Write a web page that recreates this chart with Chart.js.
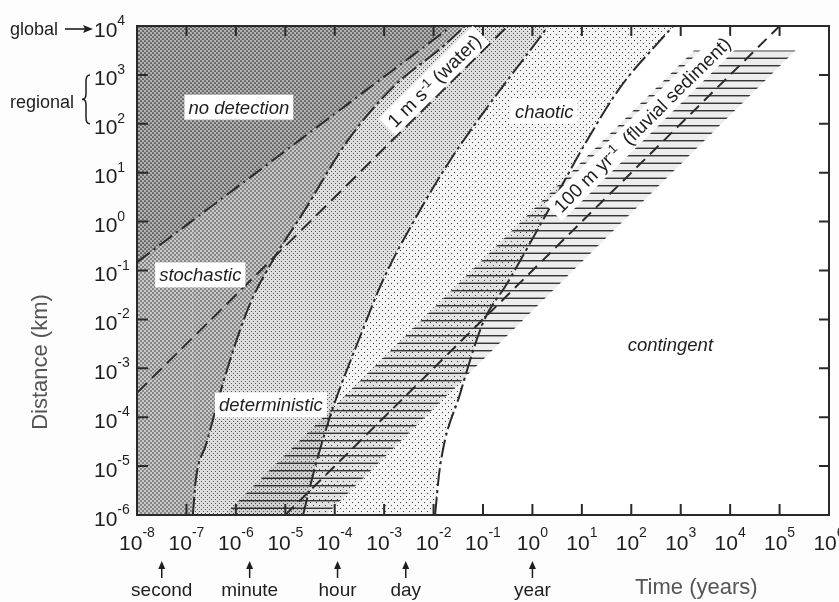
<!DOCTYPE html>
<html>
<head>
<meta charset="utf-8">
<title>Space–time domains of landscape behaviour</title>
<script src="https://cdn.jsdelivr.net/npm/chart.js@4.4.1/dist/chart.umd.min.js"></script>
<style>
  html, body { margin: 0; padding: 0; background: #fdfdfd; }
  canvas { display: block; }
</style>
</head>
<body>
<canvas id="chart" width="839" height="602"></canvas>
<script>
// ---- axis decades (log10) ----
const timeDecades = [-8, -7, -6, -5, -4, -3, -2, -1, 0, 1, 2, 3, 4, 5, 6];
const distanceDecades = [-6, -5, -4, -3, -2, -1, 0, 1, 2, 3, 4];

// ---- regime boundaries: log10 time (yr) against log10 distance (km) ----
const detectionLogT = [-8, -1.63];
const detectionLogD = [-0.83, 4];
const stochasticLogT = [-6.87, -6.81, -6.6, -6.2, -5.72, -5.25, -4.64, -3.72, -2.82, -1.85, -1.36];
const stochasticLogD = [-6, -5.28, -4.55, -3.1, -1.7, -0.79, 0.18, 1.68, 2.75, 3.55, 4];
const deterministicLogT = [-4.64, -4.36, -4.03, -3.49, -3.02, -2.27, -1.66, -1.0, 0.16, 0.32];
const deterministicLogD = [-6, -4.88, -3.79, -2.36, -1.19, 0.24, 1.26, 2.22, 3.78, 4];
const chaoticLogT = [-1.97, -1.87, -1.46, -1.0, -0.51, 0.36, 1.03, 1.78, 2.59, 2.85];
const chaoticLogD = [-6, -5.02, -3.51, -2.07, -1.26, 0.30, 1.53, 2.75, 3.71, 4];

// ---- transport velocities (km per year) ----
const waterSpeed = 31557.6;               // 1 m s-1
const sedimentSpeed = 0.1;                // 100 m yr-1
const sedimentBandSpeeds = [1.7, 0.015];  // fast and slow edges of the hatched band
const sedimentBandLogD = [-6, 3.5];

// ---- familiar time spans, in seconds ----
const spanNames = ['second', 'minute', 'hour', 'day', 'year'];
const spanSeconds = [1, 60, 3600, 86400, 31557600];
const secondsPerYear = 31557600;

// ------------------------------------------------------------------
const canvas = document.getElementById('chart');
const ctx = canvas.getContext('2d');

const tMin = 10 ** timeDecades[0], tMax = 10 ** timeDecades[timeDecades.length - 1];
const dMin = 10 ** distanceDecades[0], dMax = 10 ** distanceDecades[distanceDecades.length - 1];
const pts = (lt, ld) => lt.map((t, i) => ({ x: 10 ** t, y: 10 ** ld[i] }));
const stripTo = lt => [{ x: tMin, y: dMin }, { x: 10 ** lt[0], y: dMin }];
const speedLine = (v, d0, d1) => [{ x: d0 / v, y: d0 }, { x: d1 / v, y: d1 }];

// screen textures for the regimes
function tile(w, h, paint) {
  const c = document.createElement('canvas');
  c.width = w; c.height = h;
  paint(c.getContext('2d'));
  return ctx.createPattern(c, 'repeat');
}
function dots(bg, r, col, size, at) {
  return tile(size, size, g => {
    g.fillStyle = bg; g.fillRect(0, 0, size, size);
    g.fillStyle = col;
    at.forEach(([x, y]) => { g.beginPath(); g.arc(x, y, r, 0, Math.PI * 2); g.fill(); });
  });
}
function pixels(bg, col, size, at) {
  return tile(size, size, g => {
    g.fillStyle = bg; g.fillRect(0, 0, size, size);
    g.fillStyle = col;
    at.forEach(([x, y]) => g.fillRect(x, y, 1, 1));
  });
}
const texNoDetection = dots('#b2b2b2', 0.85, '#2a2a2a', 4, [[1, 1], [3, 3]]);
const texStochastic = dots('#c8c8c8', 0.8, '#333333', 4, [[1, 1], [3, 3]]);
const texDeterministic = pixels('#dfdfdf', '#555555', 4, [[1, 1], [3, 3]]);
const texChaotic = pixels('#f4f4f4', '#3a3a3a', 6, [[1, 1], [4, 4]]);
const texHatch = tile(4, 15, g => {
  g.fillStyle = 'rgba(0,0,0,0.07)'; g.fillRect(0, 0, 4, 15);
  g.fillStyle = 'rgba(35,35,35,0.9)'; g.fillRect(0, 5, 4, 1); g.fillRect(0, 13, 4, 1);
  g.fillStyle = 'rgba(35,35,35,0.4)'; g.fillRect(0, 6, 4, 1); g.fillRect(0, 12, 4, 1);
});

const area = (data, tex, order, fill = 'end', smooth = true) => ({
  data, fill, backgroundColor: tex, borderWidth: 0, borderColor: 'rgba(0,0,0,0)',
  pointRadius: 0, tension: 0, cubicInterpolationMode: smooth ? 'monotone' : 'default', order
});
const edge = (data, dash, smooth = true) => ({
  data, fill: false, borderColor: '#2b2b2b', borderWidth: 2, borderDash: dash,
  pointRadius: 0, tension: 0, cubicInterpolationMode: smooth ? 'monotone' : 'default', order: 1
});

const [vFast, vSlow] = sedimentBandSpeeds;
const bandLow = 10 ** sedimentBandLogD[0], bandHigh = 10 ** sedimentBandLogD[1];
const bandUpper = [{ x: bandLow / vFast, y: bandLow }, { x: bandHigh / vFast, y: bandHigh }, { x: bandHigh / vSlow, y: bandHigh }];
const bandLower = [{ x: bandLow / vFast, y: bandLow }, { x: bandLow / vSlow, y: bandLow }, { x: bandHigh / vSlow, y: bandHigh }];

const datasets = [
  // regime areas, painted from the right-most regime leftwards
  area(stripTo(chaoticLogT), texChaotic, 40, 'end', false),
  area(pts(chaoticLogT, chaoticLogD), texChaotic, 39),
  area(stripTo(deterministicLogT), texDeterministic, 38, 'end', false),
  area(pts(deterministicLogT, deterministicLogD), texDeterministic, 37),
  area(stripTo(stochasticLogT), texStochastic, 36, 'end', false),
  area(pts(stochasticLogT, stochasticLogD), texStochastic, 35),
  area(pts(detectionLogT, detectionLogD), texNoDetection, 34, 'end', false),
  // fluvial sediment band
  area(bandUpper, texHatch, 30, '+1', false),
  area(bandLower, 'rgba(0,0,0,0)', 30, false, false),
  // boundary lines
  edge(pts(detectionLogT, detectionLogD), [16, 5, 2, 5], false),
  edge(pts(stochasticLogT, stochasticLogD), [18, 4, 3, 4]),
  edge(pts(deterministicLogT, deterministicLogD), [18, 4, 3, 4]),
  edge(pts(chaoticLogT, chaoticLogD), [18, 4, 3, 4]),
  edge(speedLine(waterSpeed, tMin * waterSpeed, dMax), [14, 7], false),
  edge(speedLine(sedimentSpeed, dMin, dMax), [12, 7], false)
];

// ---- text helpers ----
const FONT = '"Liberation Sans", Arial, sans-serif';
function richWidth(c, parts, font, supFont) {
  let w = 0;
  for (const [t, sup] of parts) { c.font = sup ? supFont : font; w += c.measureText(t).width; }
  return w;
}
function drawRich(c, parts, x, y, font, supFont, rise) {
  for (const [t, sup] of parts) {
    c.font = sup ? supFont : font;
    c.fillText(t, x, sup ? y - rise : y);
    x += c.measureText(t).width;
  }
}
function boxLabel(c, parts, cx, cy, angle, font, supFont, padX, h, base, rise) {
  c.save();
  c.translate(cx, cy);
  c.rotate(angle);
  const w = richWidth(c, parts, font, supFont);
  c.fillStyle = '#ffffff';
  c.fillRect(-w / 2 - padX, -h / 2, w + 2 * padX, h);
  c.fillStyle = '#1e1e1e';
  c.textAlign = 'left';
  c.textBaseline = 'alphabetic';
  drawRich(c, parts, -w / 2, base, font, supFont, rise);
  c.restore();
}
function upArrow(c, x, tip, tail) {
  c.beginPath(); c.moveTo(x, tail); c.lineTo(x, tip + 5); c.stroke();
  c.beginPath(); c.moveTo(x, tip); c.lineTo(x - 3.5, tip + 8); c.lineTo(x + 3.5, tip + 8); c.closePath(); c.fill();
}

const decor = {
  id: 'decor',
  beforeDraw(chart) {
    const { ctx: c, chartArea: a } = chart;
    c.save();
    c.fillStyle = '#fdfdfd'; c.fillRect(0, 0, chart.width, chart.height);
    c.fillStyle = '#ffffff'; c.fillRect(a.left, a.top, a.right - a.left, a.bottom - a.top);
    c.restore();
  },
  afterDatasetsDraw(chart) {
    const { ctx: c, chartArea: a, scales: { x: xs, y: ys } } = chart;
    c.save();
    c.strokeStyle = '#2a2a2a';
    c.lineWidth = 2;
    c.beginPath();
    for (const e of timeDecades) {
      const px = xs.getPixelForValue(10 ** e);
      c.moveTo(px, a.bottom); c.lineTo(px, a.bottom - 11);
      c.moveTo(px, a.top); c.lineTo(px, a.top + 10);
    }
    for (const e of distanceDecades) {
      const py = ys.getPixelForValue(10 ** e);
      c.moveTo(a.left, py); c.lineTo(a.left + 11, py);
      c.moveTo(a.right, py); c.lineTo(a.right - 10, py);
    }
    c.stroke();
    c.strokeRect(a.left, a.top, a.right - a.left, a.bottom - a.top);
    c.restore();
  },
  afterDraw(chart, args, opts) {
    const { ctx: c, chartArea: a, scales: { x: xs, y: ys } } = chart;
    const X = lt => xs.getPixelForValue(10 ** lt);
    const Y = ld => ys.getPixelForValue(10 ** ld);
    c.save();
    c.fillStyle = '#1e1e1e';
    c.textAlign = 'left';
    c.textBaseline = 'alphabetic';

    // decade labels
    const big = '21px ' + FONT, small = '14px ' + FONT;
    for (const e of timeDecades) {
      const parts = [['10', false], [String(e), true]];
      const w = richWidth(c, parts, big, small);
      drawRich(c, parts, X(e) - w / 2, a.bottom + 35, big, small, 13);
    }
    for (const e of distanceDecades) {
      drawRich(c, [['10', false], [String(e), true]], 94, Y(e) + 10.5, big, small, 11.5);
    }

    // global / regional scale notes
    c.font = '18px ' + FONT;
    const yTop = Y(distanceDecades[distanceDecades.length - 1]);
    c.fillText('global', 10, yTop + 9);
    c.strokeStyle = '#1e1e1e';
    c.lineWidth = 1.6;
    c.beginPath(); c.moveTo(65, yTop + 3); c.lineTo(85, yTop + 3); c.stroke();
    c.beginPath(); c.moveTo(93, yTop + 3); c.lineTo(83, yTop - 1); c.lineTo(85, yTop + 3); c.lineTo(83, yTop + 7); c.closePath(); c.fill();
    const r1 = Y(3), r2 = Y(2), rm = (r1 + r2) / 2, bx = 82;
    c.fillText('regional', 10, rm + 8.5);
    c.lineWidth = 1.5;
    c.beginPath();
    c.moveTo(bx + 8, r1);
    c.quadraticCurveTo(bx + 4, r1, bx + 4, r1 + 6);
    c.lineTo(bx + 4, rm - 5);
    c.quadraticCurveTo(bx + 4, rm, bx, rm);
    c.quadraticCurveTo(bx + 4, rm, bx + 4, rm + 5);
    c.lineTo(bx + 4, r2 - 6);
    c.quadraticCurveTo(bx + 4, r2, bx + 8, r2);
    c.stroke();

    // axis titles
    c.fillStyle = '#555555';
    c.font = '22px ' + FONT;
    c.fillText('Time (years)', 635, 594);
    c.save();
    c.translate(47, 362);
    c.rotate(-Math.PI / 2);
    c.textAlign = 'center';
    c.fillText('Distance (km)', 0, 0);
    c.restore();

    // familiar time spans along the time axis
    c.fillStyle = '#1e1e1e';
    c.strokeStyle = '#1e1e1e';
    c.lineWidth = 1.5;
    c.font = '19px ' + FONT;
    c.textAlign = 'center';
    spanNames.forEach((name, i) => {
      const px = xs.getPixelForValue(spanSeconds[i] / secondsPerYear);
      upArrow(c, px, 561, 578);
      c.fillText(name, px, 596);
    });
    c.textAlign = 'left';

    // regime names
    const italic = 'italic 18.5px ' + FONT;
    for (const L of opts.regimes) {
      boxLabel(c, [[L.text, false]], X(L.logT), Y(L.logD), 0, italic, italic, 4, 25, 6.5, 0);
    }
    // velocity labels, aligned with one-to-one lines
    const slope = Math.atan2(Y(1) - Y(0), X(1) - X(0));
    for (const L of opts.velocities) {
      boxLabel(c, L.parts, X(L.logT), Y(L.logD), slope, '19px ' + FONT, '13px ' + FONT, 5, 24, 6.5, 6);
    }
    c.restore();
  }
};

new Chart(ctx, {
  type: 'line',
  data: { datasets },
  plugins: [decor],
  options: {
    responsive: false,
    animation: false,
    devicePixelRatio: 1,
    events: [],
    layout: { padding: { left: 137, right: 10, top: 26, bottom: 87 } },
    scales: {
      x: { type: 'logarithmic', min: tMin, max: tMax, bounds: 'data', display: false },
      y: { type: 'logarithmic', min: dMin, max: dMax, bounds: 'data', display: false }
    },
    plugins: {
      legend: { display: false },
      tooltip: { enabled: false },
      decor: {
        regimes: [
          { text: 'no detection', logT: -5.94, logD: 2.34 },
          { text: 'stochastic', logT: -6.72, logD: -1.09 },
          { text: 'deterministic', logT: -5.29, logD: -3.75 },
          { text: 'chaotic', logT: 0.24, logD: 2.26 },
          { text: 'contingent', logT: 2.79, logD: -2.52 }
        ],
        velocities: [
          { parts: [['1 m s', false], ['-1', true], [' (water)', false]], logT: -1.99, logD: 2.88 },
          { parts: [['100 m yr', false], ['-1', true], ['  (fluvial sediment)', false]], logT: 2.22, logD: 1.98 }
        ]
      }
    }
  }
});
</script>
</body>
</html>
